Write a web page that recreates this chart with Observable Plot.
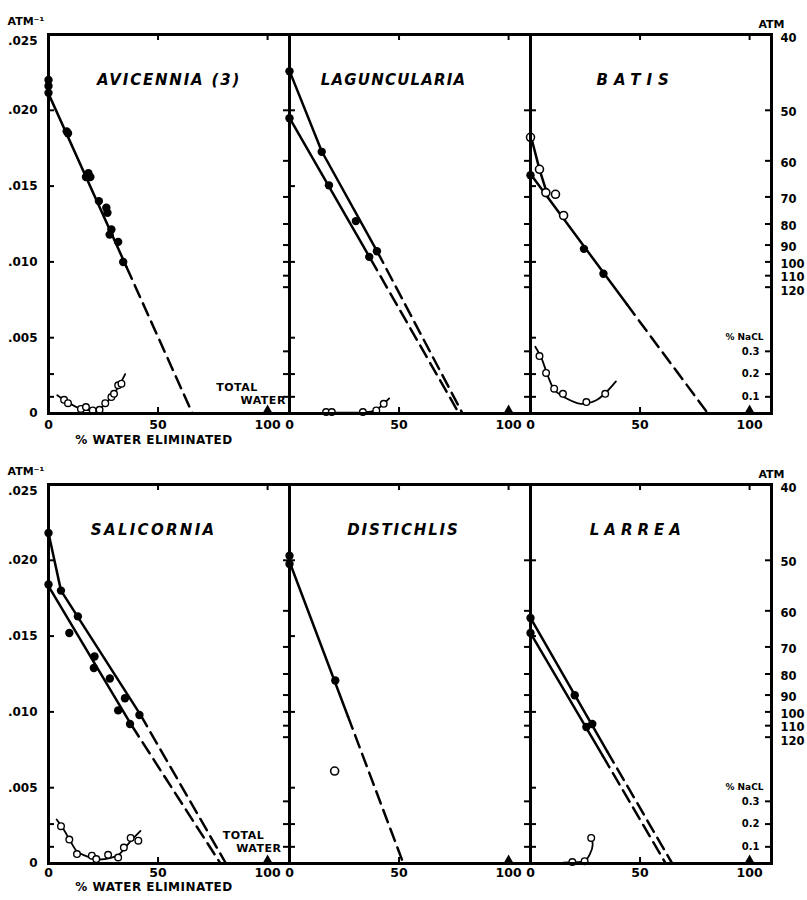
<!DOCTYPE html>
<html><head><meta charset="utf-8">
<script src="https://cdn.jsdelivr.net/npm/d3@7"></script>
<script src="https://cdn.jsdelivr.net/npm/@observablehq/plot@0.6"></script>
<style>
body{margin:0;background:#fff;}
#fig{position:relative;width:807px;height:900px;background:#fff;}
#fig svg{display:block;}
</style></head><body><div id="fig"></div>
<script>
// ---------------- data ----------------
const topPanels = ["AVICENNIA (3)", "LAGUNCULARIA", "BATIS"];
const bottomPanels = ["SALICORNIA", "DISTICHLIS", "LARREA"];
const titleX = [55, 47.5, 48, 48, 52, 49];
const titleSpacing = [1.8, 1.2, 6, 2.3, 1.8, 5];

const xTicks = [0, 50, 100];
const yTicks = [0, 0.005, 0.010, 0.015, 0.020, 0.025];
const atmTicks = [40, 50, 60, 70, 80, 90, 100, 110, 120];
const naclTicks = [0.1, 0.2, 0.3];
const totalWater = 100;

// filled points: [% water eliminated, 1/atm]
const aviFilled = [[0,0.0220],[0,0.0216],[0,0.02115],[8.3,0.01861],[8.9,0.01848],[17.1,0.0156],[18.2,0.01585],[19.1,0.0156],[23,0.01401],[26.4,0.01357],[26.9,0.01324],[28.7,0.01214],[27.9,0.0118],[31.8,0.01132],[34.1,0.00999]];
const lagFilled = [[0,0.02257],[0,0.01948],[14.7,0.01726],[18,0.01505],[30.3,0.01269],[36.4,0.01033],[39.9,0.0107]];
const batFilled = [[0,0.01572],[24.4,0.01086],[33.3,0.00922]];
const salFilled = [[0,0.0218],[0,0.0184],[5.7,0.0180],[13.4,0.0163],[9.5,0.0152],[21,0.01365],[20.7,0.0129],[28,0.0122],[34.9,0.0109],[31.8,0.0101],[41.5,0.0098],[37.2,0.0092]];
const disFilled = [[0,0.0203],[0,0.01976],[20.9,0.01207]];
const larFilled = [[0,0.0162],[0,0.0152],[20.2,0.0111],[25.5,0.0090],[28.2,0.0092]];

// open osmotic points: [% water eliminated, 1/atm]
const batOpen = [[0,0.01822],[4.1,0.01611],[7,0.01457],[11.4,0.01446],[15.1,0.01306]];
const disOpen = [[20.6,0.0061]];

// fitted lines: [% water eliminated, 1/atm]
const aviFit = {solid: [[0,0.0211],[35.6,0.00967]], dashed: [[35.6,0.00967],[65.7,0]]};
const lagFitUpper = {solid: [[0,0.0226],[14.7,0.0173],[40,0.0107]], dashed: [[40,0.0107],[79,0]]};
const lagFitLower = {solid: [[0,0.0195],[37,0.0102]], dashed: [[37,0.0102],[77.4,0]]};
const batFit = {solid: [[0,0.0158],[44,0.0072]], dashed: [[44,0.0072],[81,0]]};
const batOpenFit = {solid: [[0,0.0184],[4.1,0.0161],[8,0.0143]], dashed: []};
const salFitUpper = {solid: [[0,0.0218],[5.7,0.018],[42,0.0098]], dashed: [[42,0.0098],[81,0]]};
const salFitLower = {solid: [[0,0.0183],[38,0.0091]], dashed: [[38,0.0091],[78.5,0]]};
const disFit = {solid: [[0,0.0199],[26.7,0.0097]], dashed: [[26.7,0.0097],[52,0]]};
const larFitUpper = {solid: [[0,0.0162],[35,0.0074]], dashed: [[35,0.0074],[64.7,0]]};
const larFitLower = {solid: [[0,0.0152],[33,0.0071]], dashed: [[33,0.0071],[61.7,0]]};

// % NaCl points and curves: [% water eliminated, % NaCl]
const aviNaCl = [[7.1,0.087],[8.9,0.072],[14.8,0.047],[17.1,0.055],[20.2,0.04],[23.3,0.043],[25.9,0.072],[28.7,0.099],[29.9,0.113],[31.8,0.151],[33.3,0.158]];
const aviNaClCurve = [[4,0.107],[9,0.075],[14,0.05],[19,0.04],[23,0.045],[27,0.08],[31,0.13],[35,0.2]];
const lagNaCl = [[16.7,0.033],[19.3,0.033],[33.5,0.033],[39.6,0.04],[43,0.069]];
const lagNaClCurve = [[9.5,0.028],[20,0.03],[33,0.032],[39,0.04],[45.5,0.093]];
const batNaCl = [[4.1,0.279],[7.1,0.205],[10.8,0.136],[14.8,0.113],[25.5,0.077],[34.1,0.113]];
const batNaClCurve = [[2.2,0.32],[5,0.27],[8,0.19],[11,0.13],[16,0.095],[23,0.069],[30,0.085],[34,0.115],[39,0.168]];
const salNaCl = [[5.7,0.191],[9.5,0.132],[13,0.068],[19.8,0.061],[21.8,0.046],[27.2,0.065],[31.8,0.053],[34.4,0.097],[37.5,0.139],[41,0.127]];
const salNaClCurve = [[3.7,0.22],[7,0.175],[10,0.125],[13,0.08],[17,0.06],[22,0.045],[28,0.05],[32,0.065],[37,0.12],[42,0.17]];
const larNaCl = [[19.1,0.033],[24.7,0.037],[27.7,0.139]];
const larNaClCurve = [[14.9,0.03],[19.1,0.033],[24.7,0.037],[27.2,0.07],[28.4,0.11],[27.7,0.139]];

// "TOTAL WATER" annotation
const totalWaterTop = [["TOTAL", 86, 0.0017], ["WATER", 98, 0.00086]];
const totalWaterBottom = [["TOTAL", 89, 0.00185], ["WATER", 96, 0.001]];

// ---------------- build ----------------
const FONT = "DejaVu Sans, sans-serif";
const xMax = 110, yMax = 0.025;
const naclToY = n => 0.015 * n - 0.0004;   // secondary % NaCl axis
const allPanels = [...topPanels, ...bottomPanels];

const filledBy = {"AVICENNIA (3)": aviFilled, "LAGUNCULARIA": lagFilled, "BATIS": batFilled,
  "SALICORNIA": salFilled, "DISTICHLIS": disFilled, "LARREA": larFilled};
const openBy = {"BATIS": batOpen, "DISTICHLIS": disOpen};
const naclBy = {"AVICENNIA (3)": aviNaCl, "LAGUNCULARIA": lagNaCl, "BATIS": batNaCl, "SALICORNIA": salNaCl, "LARREA": larNaCl};
const naclCurveBy = {"AVICENNIA (3)": aviNaClCurve, "LAGUNCULARIA": lagNaClCurve, "BATIS": batNaClCurve, "SALICORNIA": salNaClCurve, "LARREA": larNaClCurve};
const fits = [
  ["AVICENNIA (3)", "a", aviFit],
  ["LAGUNCULARIA", "u", lagFitUpper], ["LAGUNCULARIA", "l", lagFitLower],
  ["BATIS", "f", batFit], ["BATIS", "o", batOpenFit],
  ["SALICORNIA", "u", salFitUpper], ["SALICORNIA", "l", salFitLower],
  ["DISTICHLIS", "a", disFit],
  ["LARREA", "u", larFitUpper], ["LARREA", "l", larFitLower]
];

const toRows = obj => Object.entries(obj).flatMap(([panel, arr]) => arr.map(([x, y]) => ({panel, x, y})));
const filledRows = toRows(filledBy);
const openRows = toRows(openBy);
const naclRows = toRows(naclBy);
const naclCurveRows = Object.entries(naclCurveBy).flatMap(([panel, arr]) => arr.map(([x, y]) => ({panel, id: panel, x, y})));
const solidRows = fits.flatMap(([panel, id, f]) => f.solid.map(([x, y]) => ({panel, id: panel + id, x, y})));
const dashedRows = fits.flatMap(([panel, id, f]) => f.dashed.map(([x, y]) => ({panel, id: panel + id, x, y})));

const fmtY = d => d === 0 ? "0" : d3.format(".3f")(d).slice(1);
const fmtAtm = d => String(Math.round(1 / d));

function rowPlot(panels, o) {
  const W = 807, H = 450, mL = 48, mR = 36, mT = 34, mB = 37;
  const facetW = (W - mL - mR) / panels.length;
  const tx = 6 * xMax / facetW, ty = 6 * yMax / (H - mT - mB);
  const inRow = d => panels.includes(d.panel);
  const P0 = panels[0], PL = panels[panels.length - 1];
  const leftTicks = [0.005, 0.010, 0.015, 0.020, naclToY(0.1), naclToY(0.2)];
  const rightTicks = [...atmTicks.slice(1).map(a => 1 / a), ...naclTicks.map(naclToY)];
  const atmPos = atmTicks.map(a => 1 / a);
  const bold = {fontWeight: "bold", fontFamily: FONT};
  const yAxis = {anchor: "left", tickSize: 0, tickPadding: 11, tickFormat: fmtY, fontSize: 12, label: null, ...bold};
  const rAxis = {anchor: "right", tickSize: 0, tickPadding: 9, tickFormat: fmtAtm, fontSize: 11.5, label: null, ...bold};
  return Plot.plot({
    width: W, height: H, marginLeft: mL, marginRight: mR, marginTop: mT, marginBottom: mB,
    style: {background: "transparent", fontFamily: FONT, overflow: "visible", color: "black"},
    fx: {domain: panels, padding: 0, axis: null, label: null},
    x: {domain: [0, xMax]},
    y: {domain: [0, yMax]},
    marks: [
      // inward frame ticks
      Plot.ruleY(leftTicks, {y: d => d, x1: () => 0, x2: () => tx, stroke: "black", strokeWidth: 2}),
      Plot.ruleY(rightTicks, {y: d => d, x1: () => xMax - tx, x2: () => xMax, stroke: "black", strokeWidth: 2}),
      Plot.ruleX([50, 100], {x: d => d, y1: () => yMax, y2: () => yMax - ty, stroke: "black", strokeWidth: 2}),
      Plot.ruleX([50], {x: d => d, y1: () => 0, y2: () => ty, stroke: "black", strokeWidth: 2}),
      // axes
      Plot.axisX(xTicks, {tickSize: 0, tickPadding: o.xPad, tickFormat: d => String(d), fontSize: 12.5, label: null, ...bold}),
      Plot.axisY(yTicks.filter(d => d < yMax), yAxis),
      Plot.axisY(yTicks.filter(d => d >= yMax), {...yAxis, dy: 7}),
      Plot.axisY(atmPos.slice(0, 1), {...rAxis, dy: 4}),
      Plot.axisY(atmPos.slice(1, -1), {...rAxis, dy: 2}),
      Plot.axisY(atmPos.slice(-1), {...rAxis, dy: 4}),
      // fitted lines
      Plot.line(solidRows.filter(inRow), {x: "x", y: "y", z: "id", fx: "panel", stroke: "black", strokeWidth: 2.5}),
      Plot.line(dashedRows.filter(inRow), {x: "x", y: "y", z: "id", fx: "panel", stroke: "black", strokeWidth: 2.5, strokeDasharray: "13,7"}),
      Plot.line(naclCurveRows.filter(inRow), {x: "x", y: d => naclToY(d.y), z: "id", fx: "panel", stroke: "black", strokeWidth: 1.8, curve: "catmull-rom"}),
      // points
      Plot.dot(filledRows.filter(inRow), {x: "x", y: "y", fx: "panel", r: 4.2, fill: "black"}),
      Plot.dot(openRows.filter(inRow), {x: "x", y: "y", fx: "panel", r: 4, fill: "white", stroke: "black", strokeWidth: 1.6}),
      Plot.dot(naclRows.filter(inRow), {x: "x", y: d => naclToY(d.y), fx: "panel", r: 3.3, fill: "white", stroke: "black", strokeWidth: 1.4}),
      // total water markers
      Plot.dot(panels, {fx: d => d, x: () => totalWater, y: () => 0, symbol: "triangle", r: 3.8, fill: "black", dy: -3}),
      // frame
      Plot.frame({stroke: "black", strokeWidth: 3}),
      // titles
      Plot.text(panels, {fx: d => d, x: d => titleX[allPanels.indexOf(d)], y: () => 0.022, text: d => d,
        fontSize: 15, fontStyle: "italic", fontWeight: "bold", fontFamily: FONT, ariaLabel: "species-title"}),
      // TOTAL WATER
      Plot.text(o.total, {fx: () => P0, x: d => d[1], y: d => d[2], text: d => d[0], fontSize: 11, ...bold}),
      // x axis title
      Plot.text(["% WATER ELIMINATED"], {fx: () => P0, frameAnchor: "bottom", dx: -15, dy: o.titleDy, fontSize: 12, ...bold}),
      // ATM-1 and ATM labels
      Plot.text(["ATM⁻¹"], {fx: () => P0, frameAnchor: "top-left", dx: -41, dy: -17, textAnchor: "start", fontSize: 11, ...bold}),
      Plot.text(["ATM"], {fx: () => PL, frameAnchor: "top-right", dy: -14, textAnchor: "middle", fontSize: 11, ...bold}),
      // % NaCl secondary scale labels
      Plot.text(naclTicks, {fx: () => PL, x: () => xMax, y: d => naclToY(d), text: d => d.toFixed(1), dx: -12, textAnchor: "end", fontSize: 10, ...bold}),
      Plot.text(["% NaCL"], {fx: () => PL, x: () => xMax, y: () => naclToY(0.3), dx: -8, dy: -14, textAnchor: "end", fontSize: 9, ...bold})
    ]
  });
}

const fig = document.getElementById("fig");
const topRow = rowPlot(topPanels, {xPad: 7, titleDy: 30, total: totalWaterTop});
const bottomRow = rowPlot(bottomPanels, {xPad: 5, titleDy: 27, total: totalWaterBottom});
fig.append(topRow, bottomRow);
fig.querySelectorAll("text").forEach(t => {
  const i = allPanels.indexOf(t.textContent);
  if (i >= 0) t.style.letterSpacing = titleSpacing[i] + "px";
});
fig.querySelectorAll("text").forEach(t => {
  if (t.textContent === "% WATER ELIMINATED" || t.textContent === "TOTAL" || t.textContent === "WATER") t.style.letterSpacing = "0.5px";
});
</script></body></html>
